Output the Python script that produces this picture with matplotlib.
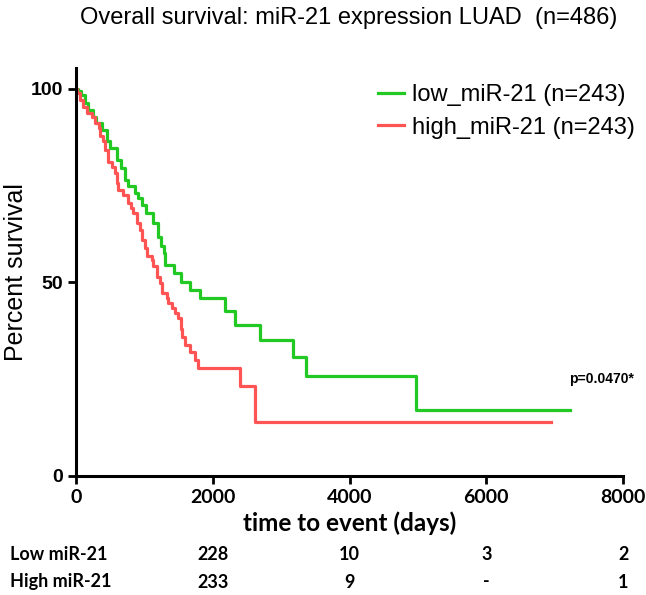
import matplotlib
matplotlib.use('Agg')
import matplotlib.pyplot as plt
import matplotlib.transforms as mtransforms

# Kaplan-Meier steps (time in days, percent survival)
low_t = [0, 30, 80, 130, 180, 250, 300, 375, 460, 500, 600, 660, 710, 765, 860,
         910, 960, 1030, 1130, 1200, 1250, 1280, 1300, 1440, 1540, 1660, 1810,
         2180, 2330, 2690, 3170, 3370, 4970, 7220]
low_s = [100, 99.3, 98.4, 96.3, 94.6, 92.8, 91.1, 89.4, 86.4, 84.7, 81.7, 79.5,
         76.5, 74.8, 73.0, 71.8, 70.0, 67.9, 65.3, 61.8, 59.5, 57.5, 54.5, 52.4,
         50.2, 48.1, 45.9, 42.5, 39.0, 35.1, 30.8, 25.8, 17.0, 17.0]

high_t = [0, 20, 60, 110, 160, 230, 280, 330, 350, 400, 425, 470, 520, 570, 595,
          620, 690, 765, 810, 840, 887, 936, 960, 1009, 1033, 1106, 1130, 1179,
          1228, 1252, 1325, 1350, 1398, 1447, 1496, 1530, 1550, 1600, 1660, 1740,
          1790, 2400, 2620, 6940]
high_s = [100, 98.9, 97.2, 95.4, 93.7, 92.8, 91.1, 89.8, 87.7, 86.4, 84.2, 81.2,
          79.9, 78.2, 75.6, 73.9, 72.6, 70.5, 69.2, 67.9, 65.3, 63.6, 61.0, 58.8,
          56.7, 55.8, 54.1, 51.5, 49.8, 47.2, 45.9, 44.6, 43.3, 42.0, 40.7, 38.0,
          35.8, 33.9, 32.0, 30.0, 28.0, 23.3, 14.0, 14.0]

risk_times = [2000, 4000, 6000, 8000]
risk_low = ['228', '10', '3', '2']
risk_high = ['233', '9', '-', '1']

green = '#22c922'
red = '#ff5454'

fig = plt.figure(figsize=(6.46, 5.95), dpi=100)
ax = fig.add_axes([0.1176, 0.2, 0.847, 0.686])

ax.step(low_t, low_s, where='post', color=green, lw=2.3,
        label='low_miR-21 (n=243)')
ax.step(high_t, high_s, where='post', color=red, lw=2.3,
        label='high_miR-21 (n=243)')

ax.set_xlim(0, 8000)
ax.set_ylim(0, 105.4)
ax.set_xticks([0, 2000, 4000, 6000, 8000])
ax.set_yticks([0, 50, 100])
for s in ['top', 'right']:
    ax.spines[s].set_visible(False)
for s in ['left', 'bottom']:
    ax.spines[s].set_linewidth(2.2)
ax.tick_params(direction='out', length=6, width=2)
for lab in ax.get_xticklabels():
    lab.set_fontfamily('Lato')
    lab.set_fontweight('bold')
    lab.set_fontsize(14)
for lab in ax.get_yticklabels():
    lab.set_fontfamily('Liberation Sans')
    lab.set_fontweight('bold')
    lab.set_fontsize(14)

ax.set_ylabel('Percent survival', fontsize=18, fontfamily='Liberation Sans',
              labelpad=2)
ax.set_xlabel('time to event (days)', fontsize=17.5, fontfamily='Lato',
              fontweight='bold', labelpad=4)
fig.text(0.539, 1 - 18 / 595, 'Overall survival: miR-21 expression LUAD  (n=486)',
         fontsize=17, fontfamily='Liberation Sans', ha='center', va='center')

leg = ax.legend(loc='upper left', bbox_to_anchor=(378 / 646, 1 - 84 / 595),
                bbox_transform=fig.transFigure, frameon=False,
                prop={'family': 'Liberation Sans', 'size': 17},
                handlelength=1.1, handletextpad=0.35, labelspacing=0.45,
                borderpad=0, borderaxespad=0)

ax.text(0.96, 0.238, 'p=0.0470*', transform=ax.transAxes, fontsize=10,
        fontfamily='Liberation Sans', fontweight='bold', ha='center', va='center')

trans = mtransforms.blended_transform_factory(ax.transData, fig.transFigure)
fig.text(10 / 646, 1 - 554 / 595, 'Low miR-21', fontsize=13, fontfamily='Lato',
         fontweight='bold', va='center', ha='left')
fig.text(10 / 646, 1 - 582 / 595, 'High miR-21', fontsize=13, fontfamily='Lato',
         fontweight='bold', va='center', ha='left')
for t, a, b in zip(risk_times, risk_low, risk_high):
    ax.text(t, 1 - 554 / 595, a, transform=trans, fontsize=13, fontfamily='Lato',
            fontweight='bold', ha='center', va='center', clip_on=False)
    ax.text(t, 1 - 582 / 595, b, transform=trans, fontsize=13, fontfamily='Lato',
            fontweight='bold', ha='center', va='center', clip_on=False)

fig.savefig('out.png', dpi=100)
